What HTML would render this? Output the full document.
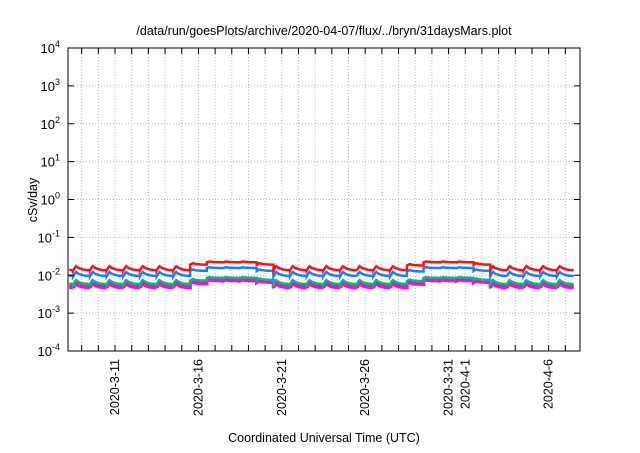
<!DOCTYPE html>
<html><head><meta charset="utf-8"><style>
body{margin:0;background:#fff;font-family:"Liberation Sans",sans-serif}
svg text{font-family:"Liberation Sans",sans-serif}
</style></head><body>
<svg id="c" width="640" height="448" xmlns="http://www.w3.org/2000/svg">
<text x="324" y="35" text-anchor="middle" font-size="12.5">/data/run/goesPlots/archive/2020-04-07/flux/../bryn/31daysMars.plot</text>
<text x="324" y="442" text-anchor="middle" font-size="12.5">Coordinated Universal Time (UTC)</text>
<text transform="translate(37,200) rotate(-90)" text-anchor="middle" font-size="12.5">cSv/day</text>
<g id="grid"></g><g id="series"></g><g id="axes"></g>
</svg>
<script>
const yDecades=[-4,-3,-2,-1,0,1,2,3,4];
const xLabels=["2020-3-11","2020-3-16","2020-3-21","2020-3-26","2020-3-31","2020-4-1","2020-4-6"];
const xLabelDays=[3,8,13,18,23,24,29];
const red=[.0135,.0135,.0135,.0135,.0135,.0135,.0135,.0135,.019,.022,.022,.022,.019,.0135,.0135,.0135,.0135,.0135,.0135,.0135,.0135,.018,.022,.022,.022,.019,.0135,.0135,.0135,.0135,.0135];
const blue=[.0095,.0095,.0095,.0095,.0095,.0095,.0095,.0095,.013,.0155,.0155,.0155,.013,.0095,.0095,.0095,.0095,.0095,.0095,.0095,.0095,.0125,.0155,.0155,.0155,.013,.0095,.0095,.0095,.0095,.0095];
const green=[.0058,.0058,.0058,.0058,.0058,.0058,.0058,.0058,.0072,.0085,.0085,.0085,.0075,.0058,.0058,.0058,.0058,.0058,.0058,.0058,.0058,.007,.0085,.0085,.0085,.0075,.0058,.0058,.0058,.0058,.0058];
const brown=[.0052,.0052,.0052,.0052,.0052,.0052,.0052,.0052,.0066,.0078,.0078,.0078,.007,.0052,.0052,.0052,.0052,.0052,.0052,.0052,.0052,.0064,.0078,.0078,.0078,.007,.0052,.0052,.0052,.0052,.0052];
const magenta=[.0047,.0047,.0047,.0047,.0047,.0047,.0047,.0047,.006,.0072,.0072,.0072,.0065,.0047,.0047,.0047,.0047,.0047,.0047,.0047,.0047,.0058,.0072,.0072,.0072,.0065,.0047,.0047,.0047,.0047,.0047];
const peak=[1.3,1.3,1.3,1.3,1.3,1.3,1.3,1.3,1.1,1.05,1.05,1.05,1.1,1.3,1.3,1.3,1.3,1.3,1.3,1.3,1.3,1.1,1.05,1.05,1.05,1.1,1.3,1.3,1.3,1.3,1.3];
const seriesList=[["magenta-series",magenta,"#ff00ff",3.5],["brown-series",brown,"#b04070",2],["green-series",green,"#10b090",2.5],["blue-series",blue,"#1a7cff",2.5],["red-series",red,"#ff1010",2.5]];
const L=68,R=580,T=48,B=351,startDay=0.18,nDays=30.7;
const X=d=>L+(d-startDay)/nDays*(R-L);
const Y=v=>B-(Math.log10(v)+4)/8*(B-T);
const ns="http://www.w3.org/2000/svg";
function mk(tag,attrs,parent){const e=document.createElementNS(ns,tag);for(const k in attrs)e.setAttribute(k,attrs[k]);document.getElementById(parent).appendChild(e);return e;}
for(const d of yDecades){const y=Y(Math.pow(10,d));
 if(d>-4&&d<4){const g=mk("line",{x1:L,x2:R,y1:y,y2:y,stroke:"#bbb","stroke-dasharray":"1,2"},"grid");
 
 }
 const t=mk("text",{x:L-8,y:y+5,"text-anchor":"end","font-size":"13"},"axes");
 
 
 t.innerHTML='10<tspan dy="-6" font-size="9">'+d+'</tspan>';
 mk("line",{x1:L,x2:L+6,y1:y,y2:y,stroke:"#000"},"axes");mk("line",{x1:R,x2:R-6,y1:y,y2:y,stroke:"#000"},"axes");}
for(let d=0;d<32;d++){const x=X(d);if(x<=L||x>=R)continue;
 const g=mk("line",{x1:x,x2:x,y1:T,y2:B,stroke:"#bbb","stroke-dasharray":"1,2"},"grid");
 
 
 mk("line",{x1:x,x2:x,y1:B,y2:B-6,stroke:"#000"},"axes");mk("line",{x1:x,x2:x,y1:T,y2:T+6,stroke:"#000"},"axes");}
xLabels.forEach((s,i)=>{const x=X(xLabelDays[i]);
 const t=mk("text",{transform:`translate(${x+4},${B+8}) rotate(-90)`,"text-anchor":"end","font-size":"12.5"},"axes");
 
 
 t.textContent=s;});
const fr=mk("rect",{x:L,y:T,width:R-L,height:B-T,fill:"none",stroke:"#000"},"axes");


for(const [name,vals,col,w] of seriesList){let pts=[];
 for(let d=0;d<31;d++){for(let k=0;k<=12;k++){const t=k/12;const sh=t<0.15?t/0.15:Math.exp(-(t-0.15)*4);
  const v=vals[d]*(1+(peak[d]-1)*sh);const x=X(d+t-0.5);if(x<L||x>R)continue;pts.push(x.toFixed(1)+","+Y(v).toFixed(1));}}
 const p=mk("polyline",{points:pts.join(" "),fill:"none",stroke:col,"stroke-width":w},"series");
 
 }
</script>
</body></html>
